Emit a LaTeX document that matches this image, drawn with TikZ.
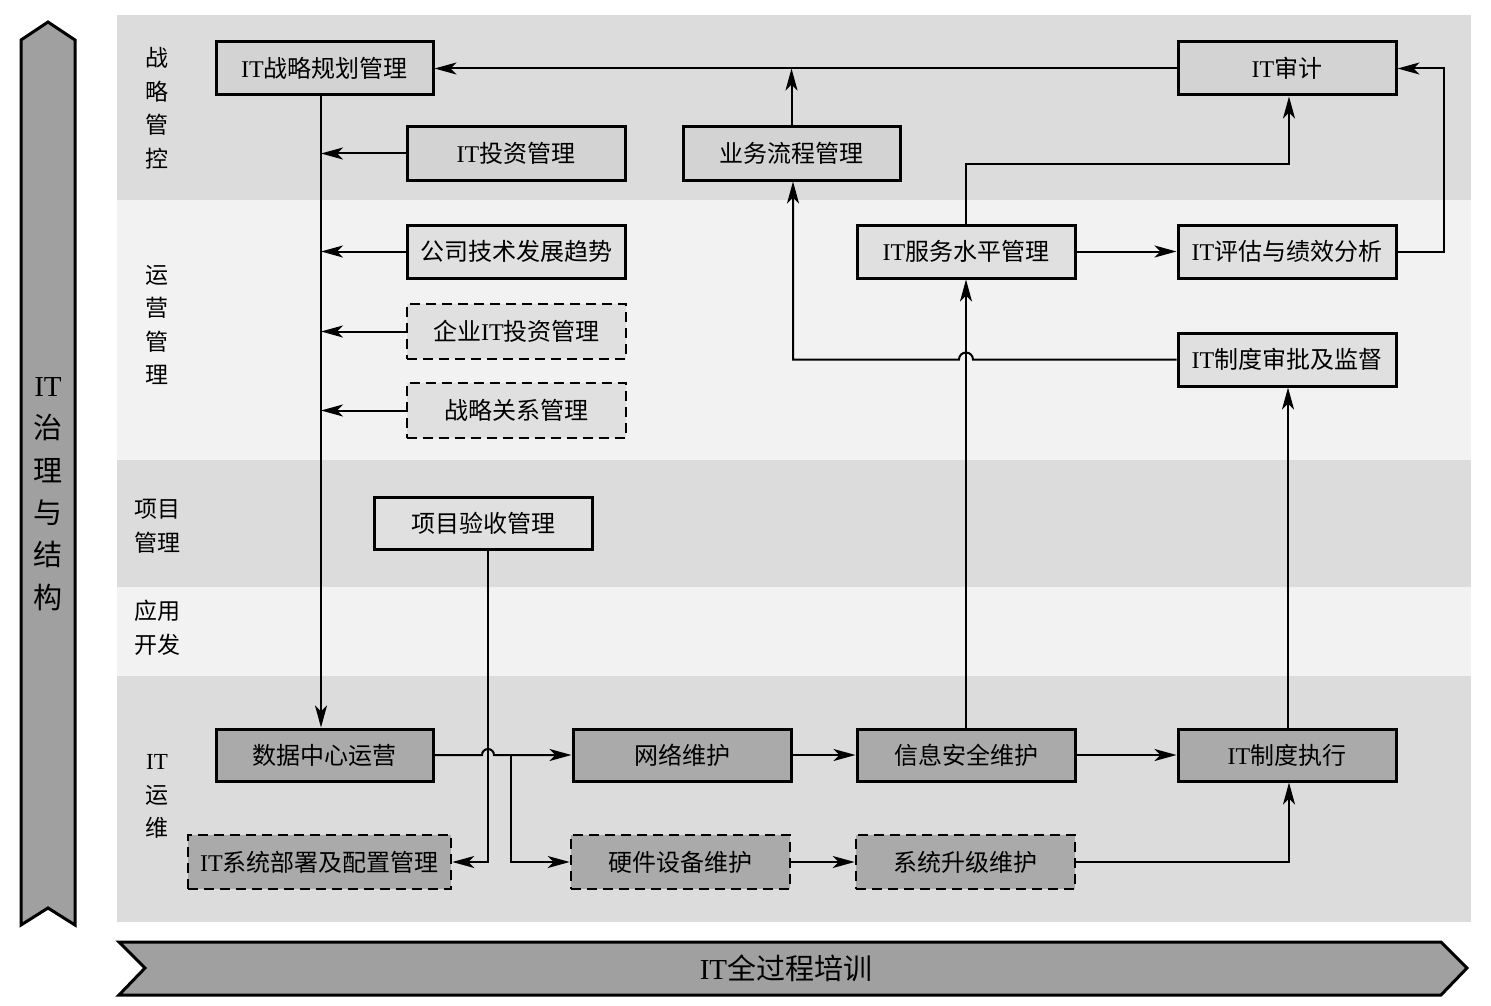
\documentclass[tikz,border=0pt]{standalone}
\usepackage{fontspec}
\setmainfont{Liberation Serif}
\newfontfamily\zhf{Noto Sans CJK SC}
\newcommand\Z[1]{{\zhf #1}}
\usetikzlibrary{arrows.meta,calc}
\definecolor{banddark}{HTML}{DCDCDC}
\definecolor{bandlight}{HTML}{F2F2F2}
\definecolor{boxtop}{HTML}{D3D3D3}
\definecolor{boxmid}{HTML}{E0E0E0}
\definecolor{boxlow}{HTML}{AAAAAA}
\definecolor{barfill}{HTML}{A0A0A0}
\begin{document}
\begin{tikzpicture}[x=1pt,y=-1pt,
  box/.style={draw, line width=3pt, minimum height=53pt, minimum width=218pt, inner sep=0pt, font=\fontsize{24}{28}\selectfont},
  ctop/.style={box, fill=boxtop},
  cmid/.style={box, fill=boxmid},
  clow/.style={box, fill=boxlow},
  dsh/.style={dash pattern=on 10pt off 6pt, line width=2.6pt},
  arr/.style={-{Stealth[length=22pt,width=12pt,inset=6pt]}, line width=2pt},
  bandlbl/.style={align=center, inner sep=0pt, font=\zhf\fontsize{23}{33.5}\selectfont},
  bigtxt/.style={inner sep=0pt, font=\fontsize{29}{42.4}\selectfont}
]
\useasboundingbox (0,0) rectangle (1491,1006);
% bands
\fill[banddark] (117,15) rectangle (1471,200);
\fill[bandlight] (117,200) rectangle (1471,460);
\fill[banddark] (117,460) rectangle (1471,587);
\fill[bandlight] (117,587) rectangle (1471,676);
\fill[banddark] (117,676) rectangle (1471,922);
% left bar
\draw[fill=barfill, line width=3pt] (21,40) -- (48,22) -- (75,40) -- (75,925) -- (48,908) -- (21,925) -- cycle;
\node[bigtxt, align=center] (lefttxt) at (48,494) {IT\\\Z{治}\\\Z{理}\\\Z{与}\\\Z{结}\\\Z{构}};
% bottom bar
\draw[fill=barfill, line width=3pt] (119,942) -- (1441,942) -- (1467,968) -- (1441,995) -- (119,995) -- (145,968) -- cycle;
\node[bigtxt] (bottxt) at (786,968) {IT\Z{全过程培训}};
% band labels
\node[bandlbl] (l1) at (157,108) {战\\略\\管\\控};
\node[bandlbl] (l2) at (157,325) {运\\营\\管\\理};
\node[bandlbl] (l3) at (157,526.5) {项目\\管理};
\node[bandlbl] (l4) at (157,627.5) {应用\\开发};
\node[bandlbl] (l5) at (157,796.5) {{\rmfamily IT}\\运\\维};
% boxes
\node[ctop, minimum width=217pt] (sp) at (324.5,68.5) {IT\Z{战略规划管理}};
\node[ctop] (inv) at (516,153.5) {IT\Z{投资管理}};
\node[ctop, minimum width=217pt] (bpm) at (791.5,153.5) {\Z{业务流程管理}};
\node[ctop] (aud) at (1287,68.5) {IT\Z{审计}};
\node[cmid] (trend) at (516,251.5) {\Z{公司技术发展趋势}};
\node[cmid] (slm) at (966,251.5) {IT\Z{服务水平管理}};
\node[cmid] (eval) at (1287,251.5) {IT\Z{评估与绩效分析}};
\node[cmid, dsh, minimum width=219pt, minimum height=55pt] (einv) at (516.5,331.5) {\Z{企业}IT\Z{投资管理}};
\node[cmid, dsh, minimum width=219pt, minimum height=55pt] (srm) at (516.5,410.5) {\Z{战略关系管理}};
\node[cmid] (appr) at (1287,359.5) {IT\Z{制度审批及监督}};
\node[cmid, minimum height=52pt] (acc) at (483,523) {\Z{项目验收管理}};
\node[clow, minimum width=217pt, minimum height=52pt] (dc) at (324.5,755) {\Z{数据中心运营}};
\node[clow, minimum height=52pt] (net) at (682,755) {\Z{网络维护}};
\node[clow, minimum height=52pt] (sec) at (966,755) {\Z{信息安全维护}};
\node[clow, minimum height=52pt] (exe) at (1287,755) {IT\Z{制度执行}};
\node[clow, dsh, minimum width=263pt, minimum height=54pt] (dep) at (319.5,862) {IT\Z{系统部署及配置管理}};
\node[clow, dsh, minimum width=219pt, minimum height=54pt] (hw) at (680.5,862) {\Z{硬件设备维护}};
\node[clow, dsh, minimum width=219pt, minimum height=54pt] (upg) at (965.5,862) {\Z{系统升级维护}};
% helper coordinates
\coordinate (vx) at (321,0);
\coordinate (hx) at (488,0);
\coordinate (bx) at (511,0);
% connectors
\draw[arr] (aud.west) -- (sp.east);
\draw[arr] (bpm.north) -- (bpm.north |- sp.east);
\draw[arr] (sp.south -| vx) -- (dc.north -| vx);
\draw[arr] (inv.west) -- (inv.west -| vx);
\draw[arr] (trend.west) -- (trend.west -| vx);
\draw[arr] (einv.west) -- (einv.west -| vx);
\draw[arr] (srm.west) -- (srm.west -| vx);
\draw[arr] (slm.north) -- ++(0,-60) -| ($(aud.south)+(2,0)$);
\draw[arr] (slm.east) -- (eval.west);
\draw[arr] (eval.east) -- ++(46,0) |- (aud.east);
\draw[arr] (appr.west) -- ($(sec.north |- appr.west)+(7,0)$) arc[start angle=0,end angle=180,radius=7pt] -- ($(bpm.south |- appr.west)+(1.5,0)$) -- ($(bpm.south)+(1.5,0)$);
\draw[arr] (sec.north) -- (slm.south);
\draw[arr] ($(exe.north)+(1,0)$) -- ($(appr.south)+(1,0)$);
\draw[arr] (acc.south -| hx) -- (hx |- dep.east) -- (dep.east);
\draw[arr] (dc.east) -- ($(hx |- dc.east)+(-6,0)$) arc[start angle=180,end angle=0,radius=6pt] -- (net.west);
\draw[arr] (bx |- dc.east) -- (bx |- hw.west) -- (hw.west);
\draw[arr] (net.east) -- (sec.west);
\draw[arr] (sec.east) -- (exe.west);
\draw[arr] (hw.east) -- (upg.west);
\draw[arr] (upg.east) -| ($(exe.south)+(2,0)$);
\end{tikzpicture}
\end{document}
